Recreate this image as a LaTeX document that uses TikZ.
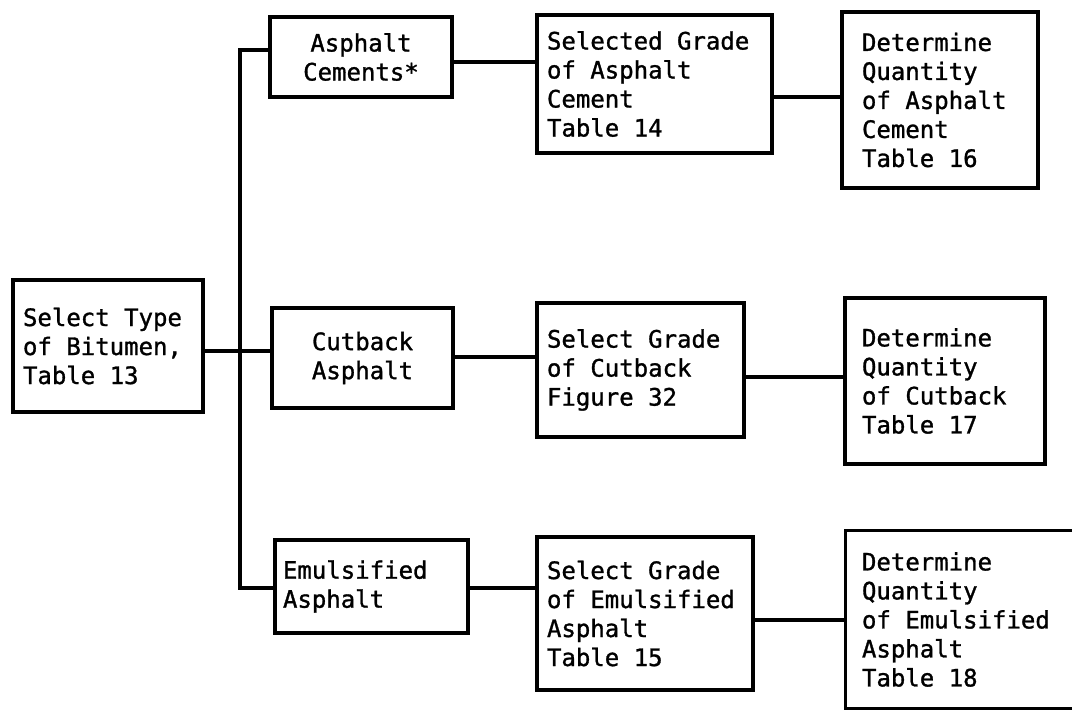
\documentclass[tikz,border=0pt]{standalone}
\usepackage{fontspec}
\usepackage{tikz}
\newfontfamily\chartfont[FakeBold=1.2]{DejaVu Sans Mono}
\newcommand\chartstyle{\chartfont\fontsize{18pt}{21.75pt}\selectfont}

\begin{document}
\begin{tikzpicture}[x=0.75pt,y=-0.75pt,
  blk/.style={draw,line width=2.6pt,inner sep=0pt,align=left,font=\chartstyle,
    execute at begin node={\spaceskip=0.602em\relax}},
  conn/.style={line width=2.6pt}]
\useasboundingbox (0,0) rectangle (1072,710);
% first column
\node[blk,minimum width=142.5pt,minimum height=99pt,text width=127.5pt] (sel) at (108,346) {Select Type\\of Bitumen,\\Table 13};
% second column
\node[blk,align=center,minimum width=136.5pt,minimum height=60pt,text width=120pt] (ac) at (361,57) {Asphalt\\Cements*};
\node[blk,align=center,minimum width=135.75pt,minimum height=75pt,text width=120pt] (cb) at (362.5,358) {Cutback\\Asphalt};
\node[blk,minimum width=144.75pt,minimum height=69.75pt,text width=132.75pt] (em) at (371.5,586.5) {Emulsified\\Asphalt};
% third column
\node[blk,minimum width=176.25pt,minimum height=103.5pt,text width=161.25pt] (sgac) at (654.5,84) {Selected Grade\\of Asphalt\\Cement\\Table 14};
\node[blk,minimum width=155.25pt,minimum height=100.5pt,text width=140.25pt] (sgcb) at (640.5,370) {Select Grade\\of Cutback\\Figure 32};
\node[blk,minimum width=162pt,minimum height=114.75pt,text width=147pt] (sgem) at (645,613.5) {Select Grade\\of Emulsified\\Asphalt\\Table 15};
% fourth column
\node[blk,minimum width=147pt,minimum height=132pt,text width=117pt] (dqac) at (940,100) {Determine\\Quantity\\of Asphalt\\Cement\\Table 16};
\node[blk,minimum width=150pt,minimum height=124.5pt,text width=124.5pt] (dqcb) at (945,381) {Determine\\Quantity\\of Cutback\\Table 17};
\node[blk,draw=none,minimum width=174.75pt,minimum height=131.25pt,text width=152.25pt] (dqem) at (963.5,619.5) {Determine\\Quantity\\of Emulsified\\Asphalt\\Table 18};
\draw[conn] (dqem.north east) -- (dqem.north west) -- (dqem.south west) -- (dqem.south east);
% trunk and branches
\coordinate (trtop) at (240,50);
\coordinate (trbot) at (240,588);
\draw[conn] (ac.west |- trtop) -- (trtop) -- (trbot) -- (em.west |- trbot);
\draw[conn] (sel.east |- 0,351) -- (cb.west |- 0,351);
% links to the right
\draw[conn] (ac.east |- 0,62) -- (sgac.west |- 0,62);
\draw[conn] (sgac.east |- 0,97) -- (dqac.west |- 0,97);
\draw[conn] (cb.east |- 0,357) -- (sgcb.west |- 0,357);
\draw[conn] (sgcb.east |- 0,377) -- (dqcb.west |- 0,377);
\draw[conn] (em.east |- 0,588) -- (sgem.west |- 0,588);
\draw[conn] (sgem.east |- 0,620) -- (dqem.west |- 0,620);
\end{tikzpicture}
\end{document}
